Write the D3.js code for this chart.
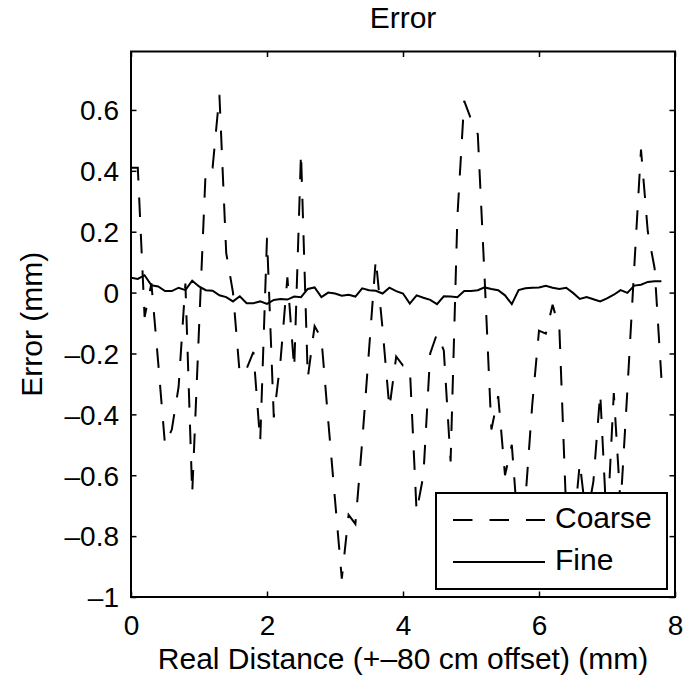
<!DOCTYPE html>
<html>
<head>
<meta charset="utf-8">
<script src="https://cdn.jsdelivr.net/npm/d3@7"></script>
<style>
	html, body { margin: 0; padding: 0; background: #fff; }
	text { font-family: "Liberation Sans", Arial, Helvetica, sans-serif; fill: #000; }
</style>
</head>
<body>
<div id="chart"></div>
<script>
// sample positions along the rail (mm)
var distance = [
	0.0, 0.1, 0.2, 0.3, 0.4, 0.5, 0.6, 0.7, 0.8, 0.9,
	1.0, 1.1, 1.2, 1.3, 1.4, 1.5, 1.6, 1.7, 1.8, 1.9,
	2.0, 2.1, 2.2, 2.3, 2.4, 2.5, 2.6, 2.7, 2.8, 2.9,
	3.0, 3.1, 3.2, 3.3, 3.4, 3.5, 3.6, 3.7, 3.8, 3.9,
	4.0, 4.1, 4.2, 4.3, 4.4, 4.5, 4.6, 4.7, 4.8, 4.9,
	5.0, 5.1, 5.2, 5.3, 5.4, 5.5, 5.6, 5.7, 5.8, 5.9,
	6.0, 6.1, 6.2, 6.3, 6.4, 6.5, 6.6, 6.7, 6.8, 6.9,
	7.0, 7.1, 7.2, 7.3, 7.4, 7.5, 7.6, 7.7, 7.8
];

var coarse = [
	0.41, 0.41, -0.08, 0.03, -0.23, -0.50, -0.45, -0.31, 0.03, -0.66,
	-0.12, 0.41, 0.41, 0.65, 0.13, 0.00, -0.27, -0.25, -0.195, -0.49,
	0.18, -0.41, -0.22, 0.05, -0.25, 0.46, -0.28, -0.11, -0.15, -0.42,
	-0.68, -0.94, -0.73, -0.76, -0.49, -0.19, 0.11, -0.12, -0.38, -0.21,
	-0.24, -0.245, -0.72, -0.60, -0.20, -0.135, -0.19, -0.555, 0.25, 0.63,
	0.57, 0.52, 0.05, -0.45, -0.34, -0.60, -0.50, -0.80, -0.68, -0.37,
	-0.125, -0.135, -0.04, -0.12, -0.72, -0.80, -0.56, -0.75, -0.62, -0.33,
	-0.78, -0.33, -0.70, -0.32, 0.08, 0.47, 0.20, 0.08, -0.28
];

var fine = [
	0.049, 0.045, 0.057, 0.024, 0.020, 0.005, 0.005, 0.016, 0.008, 0.039,
	0.020, 0.008, 0.006, -0.009, -0.015, -0.029, -0.012, -0.035, -0.035, -0.029,
	-0.037, -0.024, -0.021, -0.023, -0.013, -0.015, 0.012, 0.017, -0.015, 0.000,
	-0.003, -0.010, -0.007, -0.013, 0.014, 0.008, 0.006, -0.003, 0.016, 0.005,
	-0.003, -0.036, -0.009, -0.017, -0.024, -0.038, -0.012, -0.013, -0.015, 0.005,
	0.005, 0.008, 0.017, 0.012, 0.008, -0.009, -0.038, 0.008, 0.014, 0.016,
	0.017, 0.022, 0.016, 0.012, 0.016, -0.001, -0.021, -0.015, -0.022, -0.029,
	-0.019, -0.007, 0.008, -0.001, 0.023, 0.026, 0.035, 0.037, 0.037
];

var xTicks = [0, 2, 4, 6, 8];
var yTicks = [-1, -0.8, -0.6, -0.4, -0.2, 0, 0.2, 0.4, 0.6];
var legendLabels = ['Coarse', 'Fine'];

var width = 690, height = 676;
var margin = { top: 51.5, right: 15, bottom: 79, left: 131 };
var plotW = width - margin.left - margin.right;
var plotH = height - margin.top - margin.bottom;
var tickLen = 5.5;
var dash = '19.5,17';

var svg = d3.select('#chart')
	.append('svg')
	.attr('width', width)
	.attr('height', height);

var x = d3.scaleLinear().domain([0, 8]).range([0, plotW]);
var y = d3.scaleLinear().domain([-1, 0.792]).range([plotH, 0]);

var fmt = function (d) { return d === 0 ? '0' : String(d).replace('-', '\u2013'); };

var plot = svg.append('g')
	.attr('transform', 'translate(' + margin.left + ',' + margin.top + ')');

plot.append('defs').append('clipPath')
	.attr('id', 'clip')
	.append('rect')
	.attr('width', plotW)
	.attr('height', plotH);

// the two error traces
var line = d3.line()
	.x(function (d, i) { return x(distance[i]); })
	.y(function (d) { return y(d); });

plot.append('path')
	.datum(coarse)
	.attr('clip-path', 'url(#clip)')
	.attr('fill', 'none')
	.attr('stroke', '#000')
	.attr('stroke-width', 2)
	.attr('stroke-dasharray', dash)
	.attr('d', line);

plot.append('path')
	.datum(fine)
	.attr('clip-path', 'url(#clip)')
	.attr('fill', 'none')
	.attr('stroke', '#000')
	.attr('stroke-width', 2)
	.attr('d', line);

// axes: matlab style box with inward ticks on every side
var xAxisB = d3.axisBottom(x).tickValues(xTicks).tickSizeInner(-tickLen).tickSizeOuter(0).tickPadding(18).tickFormat(fmt);
var xAxisT = d3.axisTop(x).tickValues(xTicks).tickSizeInner(-tickLen).tickSizeOuter(0).tickFormat('');
var yAxisL = d3.axisLeft(y).tickValues(yTicks).tickSizeInner(-tickLen).tickSizeOuter(0).tickPadding(12).tickFormat(fmt);
var yAxisR = d3.axisRight(y).tickValues(yTicks).tickSizeInner(-tickLen).tickSizeOuter(0).tickFormat('');

var gx = plot.append('g').attr('transform', 'translate(0,' + plotH + ')').call(xAxisB);
plot.append('g').call(xAxisT);
var gy = plot.append('g').call(yAxisL);
plot.append('g').attr('transform', 'translate(' + plotW + ',0)').call(yAxisR);

plot.selectAll('.domain').remove();
plot.selectAll('.tick line').attr('stroke', '#000').attr('stroke-width', 1.5);
plot.selectAll('.tick text')
	.style('font-family', '"Liberation Sans", Arial, sans-serif')
	.style('font-size', '28px')
	.attr('fill', '#000');
gx.selectAll('.tick text').attr('dy', '0.71em');
gy.selectAll('.tick text').attr('dy', '0.35em');

plot.append('rect')
	.attr('width', plotW)
	.attr('height', plotH)
	.attr('fill', 'none')
	.attr('stroke', '#000')
	.attr('stroke-width', 2);

// legend, drawn on an opaque white box
var legend = svg.append('g').attr('transform', 'translate(436,493)');

legend.append('rect')
	.attr('width', 231)
	.attr('height', 96)
	.attr('fill', '#fff')
	.attr('stroke', '#000')
	.attr('stroke-width', 2);

legendLabels.forEach(function (label, i) {
	var ly = 27 + i * 42;
	legend.append('line')
		.attr('x1', 17).attr('x2', 109)
		.attr('y1', ly).attr('y2', ly)
		.attr('stroke', '#000')
		.attr('stroke-width', 2)
		.attr('stroke-dasharray', i === 0 ? dash : null);
	legend.append('text')
		.attr('x', 119)
		.attr('y', ly + 8)
		.style('font-size', '30px')
		.text(label);
});

// titles
svg.append('text')
	.attr('x', margin.left + plotW / 2)
	.attr('y', 28)
	.attr('text-anchor', 'middle')
	.style('font-size', '30px')
	.text('Error');

svg.append('text')
	.attr('x', margin.left + plotW / 2)
	.attr('y', 669)
	.attr('text-anchor', 'middle')
	.style('font-size', '30px')
	.text('Real Distance (+\u201380 cm offset) (mm)');

svg.append('text')
	.attr('transform', 'translate(42,' + (margin.top + plotH / 2) + ') rotate(-90)')
	.attr('text-anchor', 'middle')
	.style('font-size', '30px')
	.text('Error (mm)');
</script>
</body>
</html>
